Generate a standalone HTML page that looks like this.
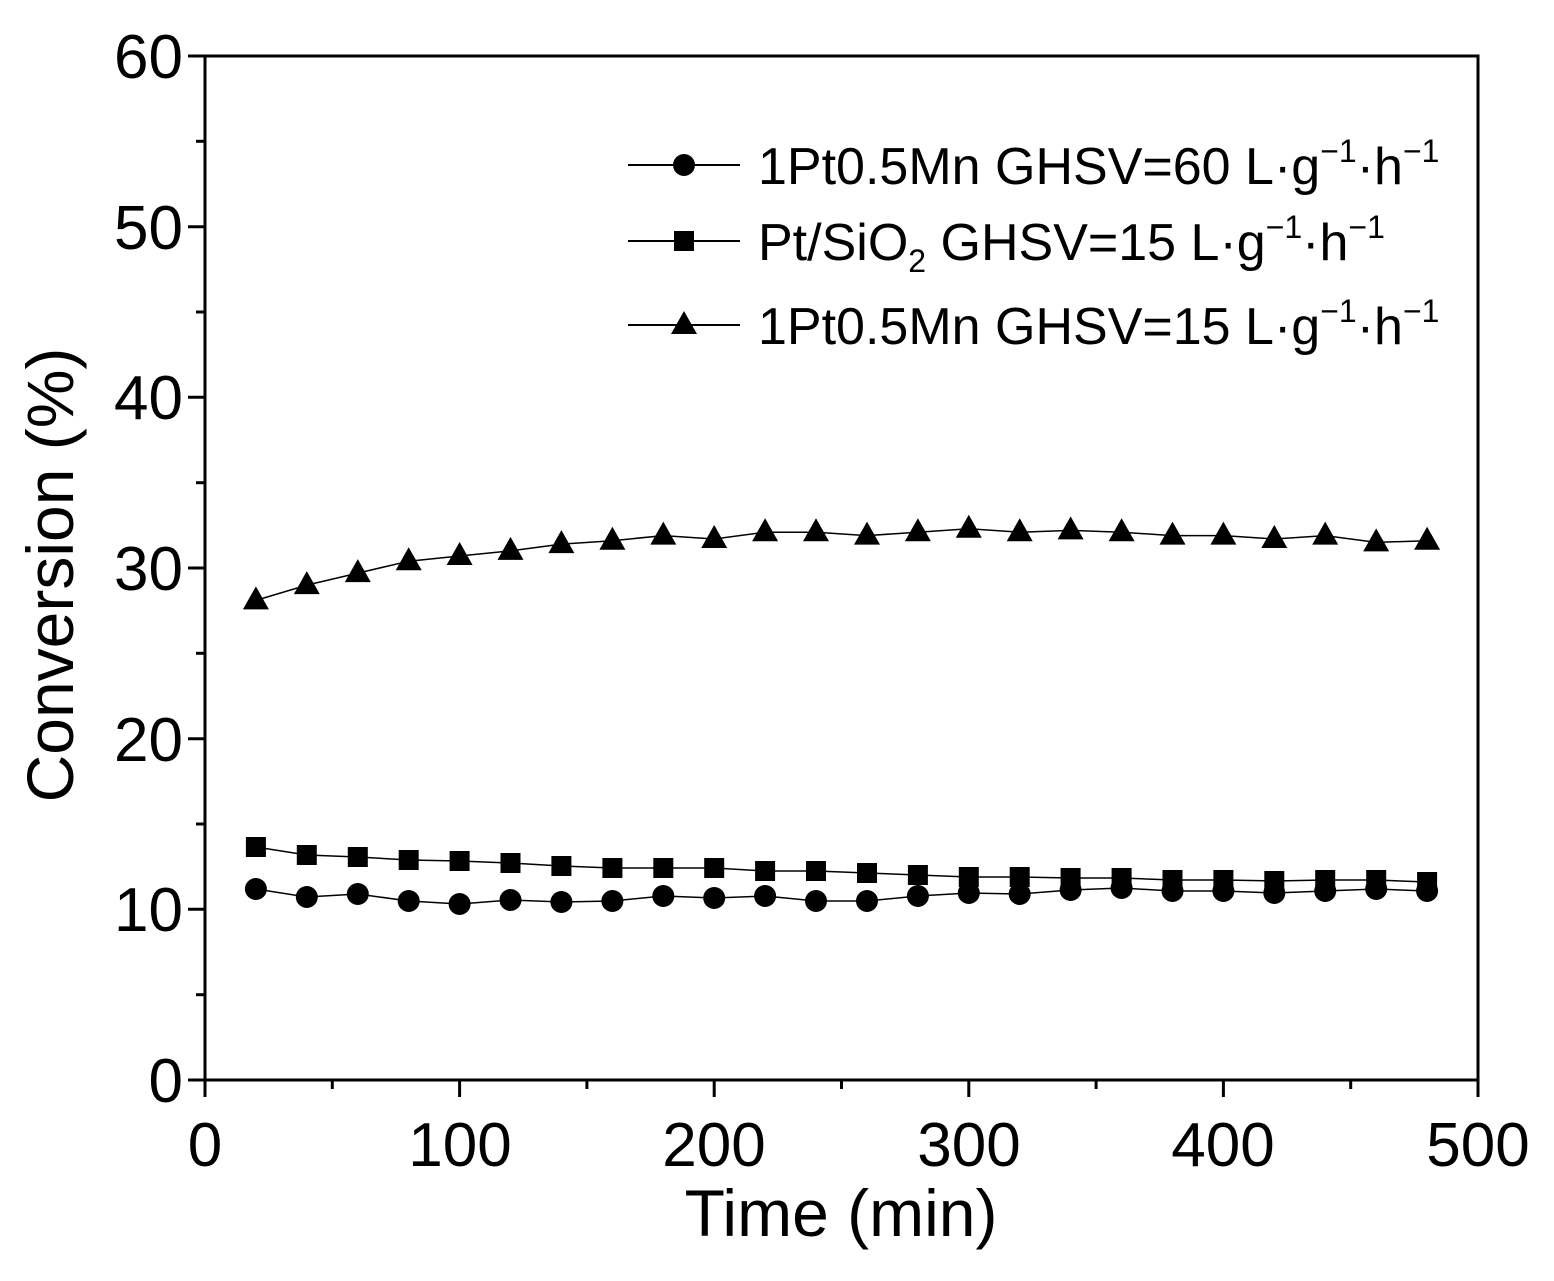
<!DOCTYPE html>
<html><head><style>body{margin:0;background:#fff}</style></head><body>
<svg width="1554" height="1276" viewBox="0 0 1554 1276" xmlns="http://www.w3.org/2000/svg" xmlns:xlink="http://www.w3.org/1999/xlink" font-family="Liberation Sans, Arial, sans-serif">
<defs>
<circle id="c" cx="0" cy="0" r="11"/>
<rect id="s" x="-10" y="-10" width="20" height="20"/>
<polygon id="t" points="0,-14 13,9 -13,9"/>
</defs>
<rect width="1554" height="1276" fill="#fff"/>
<g fill="none" stroke="#000" stroke-width="1.5">
<polyline points="255.9,889 306.8,897 357.8,894 408.7,901 459.6,904 510.5,900 561.4,902 612.4,901 663.3,896 714.2,898 765.1,896 816,901 867,901 917.9,896 968.8,893 1019.7,894 1070.6,890 1121.6,888 1172.5,891 1223.4,891 1274.3,893 1325.2,891 1376.2,889 1427.1,891"/>
<polyline points="255.9,847 306.8,855 357.8,857 408.7,860 459.6,861 510.5,863 561.4,866 612.4,868 663.3,868 714.2,868 765.1,871 816,871 867,873 917.9,875 968.8,877 1019.7,877 1070.6,878 1121.6,878 1172.5,880 1223.4,880 1274.3,881 1325.2,880 1376.2,880 1427.1,882"/>
<polyline points="255.9,600.4 306.8,585.1 357.8,573.1 408.7,561.2 459.6,556 510.5,550.9 561.4,544.1 612.4,540.7 663.3,535.6 714.2,539 765.1,532.2 816,532.2 867,535.6 917.9,532.2 968.8,528.7 1019.7,532.2 1070.6,530.4 1121.6,532.2 1172.5,535.6 1223.4,535.6 1274.3,539 1325.2,535.6 1376.2,542.4 1427.1,540.7"/>
</g>
<g>
<use xlink:href="#c" x="255.9" y="889"/><use xlink:href="#c" x="306.8" y="897"/><use xlink:href="#c" x="357.8" y="894"/><use xlink:href="#c" x="408.7" y="901"/><use xlink:href="#c" x="459.6" y="904"/><use xlink:href="#c" x="510.5" y="900"/><use xlink:href="#c" x="561.4" y="902"/><use xlink:href="#c" x="612.4" y="901"/><use xlink:href="#c" x="663.3" y="896"/><use xlink:href="#c" x="714.2" y="898"/><use xlink:href="#c" x="765.1" y="896"/><use xlink:href="#c" x="816" y="901"/><use xlink:href="#c" x="867" y="901"/><use xlink:href="#c" x="917.9" y="896"/><use xlink:href="#c" x="968.8" y="893"/><use xlink:href="#c" x="1019.7" y="894"/><use xlink:href="#c" x="1070.6" y="890"/><use xlink:href="#c" x="1121.6" y="888"/><use xlink:href="#c" x="1172.5" y="891"/><use xlink:href="#c" x="1223.4" y="891"/><use xlink:href="#c" x="1274.3" y="893"/><use xlink:href="#c" x="1325.2" y="891"/><use xlink:href="#c" x="1376.2" y="889"/><use xlink:href="#c" x="1427.1" y="891"/>
<use xlink:href="#s" x="255.9" y="847"/><use xlink:href="#s" x="306.8" y="855"/><use xlink:href="#s" x="357.8" y="857"/><use xlink:href="#s" x="408.7" y="860"/><use xlink:href="#s" x="459.6" y="861"/><use xlink:href="#s" x="510.5" y="863"/><use xlink:href="#s" x="561.4" y="866"/><use xlink:href="#s" x="612.4" y="868"/><use xlink:href="#s" x="663.3" y="868"/><use xlink:href="#s" x="714.2" y="868"/><use xlink:href="#s" x="765.1" y="871"/><use xlink:href="#s" x="816" y="871"/><use xlink:href="#s" x="867" y="873"/><use xlink:href="#s" x="917.9" y="875"/><use xlink:href="#s" x="968.8" y="877"/><use xlink:href="#s" x="1019.7" y="877"/><use xlink:href="#s" x="1070.6" y="878"/><use xlink:href="#s" x="1121.6" y="878"/><use xlink:href="#s" x="1172.5" y="880"/><use xlink:href="#s" x="1223.4" y="880"/><use xlink:href="#s" x="1274.3" y="881"/><use xlink:href="#s" x="1325.2" y="880"/><use xlink:href="#s" x="1376.2" y="880"/><use xlink:href="#s" x="1427.1" y="882"/>
<use xlink:href="#t" x="255.9" y="600.4"/><use xlink:href="#t" x="306.8" y="585.1"/><use xlink:href="#t" x="357.8" y="573.1"/><use xlink:href="#t" x="408.7" y="561.2"/><use xlink:href="#t" x="459.6" y="556"/><use xlink:href="#t" x="510.5" y="550.9"/><use xlink:href="#t" x="561.4" y="544.1"/><use xlink:href="#t" x="612.4" y="540.7"/><use xlink:href="#t" x="663.3" y="535.6"/><use xlink:href="#t" x="714.2" y="539"/><use xlink:href="#t" x="765.1" y="532.2"/><use xlink:href="#t" x="816" y="532.2"/><use xlink:href="#t" x="867" y="535.6"/><use xlink:href="#t" x="917.9" y="532.2"/><use xlink:href="#t" x="968.8" y="528.7"/><use xlink:href="#t" x="1019.7" y="532.2"/><use xlink:href="#t" x="1070.6" y="530.4"/><use xlink:href="#t" x="1121.6" y="532.2"/><use xlink:href="#t" x="1172.5" y="535.6"/><use xlink:href="#t" x="1223.4" y="535.6"/><use xlink:href="#t" x="1274.3" y="539"/><use xlink:href="#t" x="1325.2" y="535.6"/><use xlink:href="#t" x="1376.2" y="542.4"/><use xlink:href="#t" x="1427.1" y="540.7"/>
</g>
<rect x="205" y="56" width="1273" height="1024" fill="none" stroke="#000" stroke-width="3"/>
<g stroke="#000" stroke-width="3">
<line x1="188" y1="1080" x2="205" y2="1080"/><line x1="188" y1="909.3" x2="205" y2="909.3"/><line x1="188" y1="738.7" x2="205" y2="738.7"/><line x1="188" y1="568" x2="205" y2="568"/><line x1="188" y1="397.3" x2="205" y2="397.3"/><line x1="188" y1="226.7" x2="205" y2="226.7"/><line x1="188" y1="56" x2="205" y2="56"/>
<line x1="196" y1="994.7" x2="205" y2="994.7"/><line x1="196" y1="824" x2="205" y2="824"/><line x1="196" y1="653.3" x2="205" y2="653.3"/><line x1="196" y1="482.7" x2="205" y2="482.7"/><line x1="196" y1="312" x2="205" y2="312"/><line x1="196" y1="141.3" x2="205" y2="141.3"/>
<line x1="205" y1="1080" x2="205" y2="1097"/><line x1="459.6" y1="1080" x2="459.6" y2="1097"/><line x1="714.2" y1="1080" x2="714.2" y2="1097"/><line x1="968.8" y1="1080" x2="968.8" y2="1097"/><line x1="1223.4" y1="1080" x2="1223.4" y2="1097"/><line x1="1478" y1="1080" x2="1478" y2="1097"/>
<line x1="332.3" y1="1080" x2="332.3" y2="1089"/><line x1="586.9" y1="1080" x2="586.9" y2="1089"/><line x1="841.5" y1="1080" x2="841.5" y2="1089"/><line x1="1096.1" y1="1080" x2="1096.1" y2="1089"/><line x1="1350.7" y1="1080" x2="1350.7" y2="1089"/>
</g>
<g font-size="62" text-anchor="end">
<text x="183" y="1102">0</text><text x="183" y="931">10</text><text x="183" y="761">20</text><text x="183" y="590">30</text><text x="183" y="419">40</text><text x="183" y="249">50</text><text x="183" y="78">60</text>
</g>
<g font-size="62" text-anchor="middle">
<text x="205" y="1166">0</text><text x="460" y="1166">100</text><text x="714" y="1166">200</text><text x="969" y="1166">300</text><text x="1223" y="1166">400</text><text x="1478" y="1166">500</text>
</g>
<text x="841" y="1236" font-size="66" text-anchor="middle">Time (min)</text>
<text transform="translate(73,575) rotate(-90)" font-size="66" text-anchor="middle">Conversion (%)</text>
<g font-size="52">
<line x1="628" y1="165" x2="740" y2="165" stroke="#000" stroke-width="2"/><circle cx="684" cy="165" r="11"/>
<text x="758" y="184">1Pt0.5Mn GHSV=60 L·g<tspan font-size="32" dy="-22">−1</tspan><tspan dy="22">·h</tspan><tspan font-size="32" dy="-22">−1</tspan></text>
<line x1="628" y1="241" x2="740" y2="241" stroke="#000" stroke-width="2"/><rect x="674" y="231" width="20" height="20"/>
<text x="758" y="260">Pt/SiO<tspan font-size="32" dy="12">2</tspan><tspan dy="-12"> GHSV=15 L·g</tspan><tspan font-size="32" dy="-22">−1</tspan><tspan dy="22">·h</tspan><tspan font-size="32" dy="-22">−1</tspan></text>
<line x1="628" y1="325" x2="740" y2="325" stroke="#000" stroke-width="2"/><polygon points="684,311 697,334 671,334"/>
<text x="758" y="344">1Pt0.5Mn GHSV=15 L·g<tspan font-size="32" dy="-22">−1</tspan><tspan dy="22">·h</tspan><tspan font-size="32" dy="-22">−1</tspan></text>
</g>
</svg>
</body></html>
